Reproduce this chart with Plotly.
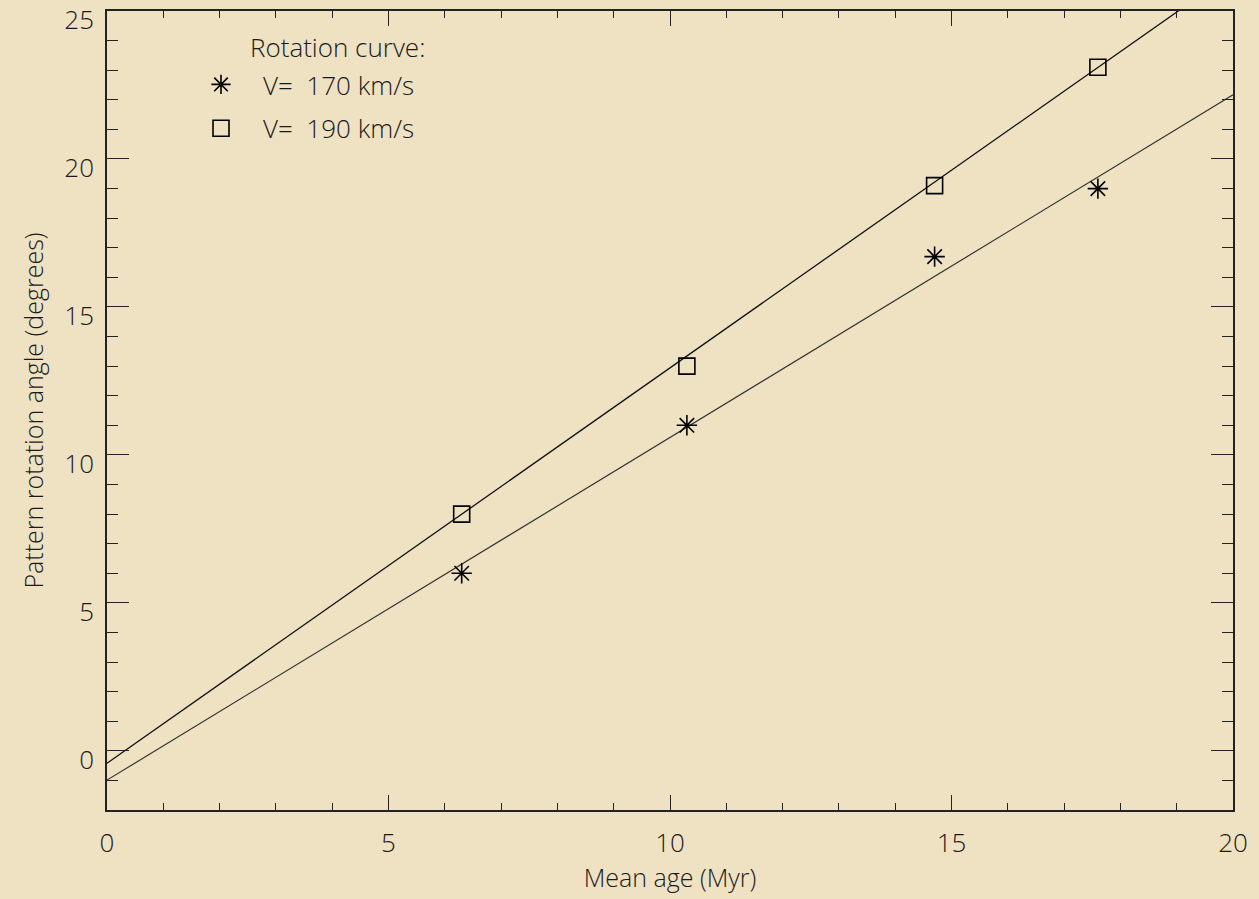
import plotly.graph_objects as go

# Data
mean_age = [6.3, 10.3, 14.7, 17.6]
angle_v170 = [6.0, 11.0, 16.7, 19.0]
angle_v190 = [8.0, 13.0, 19.1, 23.1]

# Fitted lines (endpoints read at x = 0 and x = 20)
fit_x = [0, 20]
fit_v170 = [-0.99, 22.17]
fit_v190 = [-0.42, 26.30]

x_ticks = [0, 5, 10, 15, 20]
y_ticks = [0, 5, 10, 15, 20, 25]

FONT = "Open Sans, DejaVu Sans, sans-serif"
WEIGHT = 300
INK = "#1a1a1a"
BG = "#EFE2C3"

fig = go.Figure()

fig.add_trace(go.Scatter(x=fit_x, y=fit_v190, mode="lines",
                         line=dict(color="#111111", width=1.3),
                         showlegend=False, hoverinfo="skip"))
fig.add_trace(go.Scatter(x=fit_x, y=fit_v170, mode="lines",
                         line=dict(color="#333333", width=1.2),
                         showlegend=False, hoverinfo="skip"))

fig.add_trace(go.Scatter(x=mean_age, y=angle_v170, mode="markers",
                         name="V=  170 km/s", legendgroup="a",
                         marker=dict(symbol="asterisk-open", size=17, color="#000000",
                                     line=dict(color="#000000", width=1.6)),
                         cliponaxis=False))
fig.add_trace(go.Scatter(x=mean_age, y=angle_v190, mode="markers",
                         name="V=  190 km/s", legendgroup="b",
                         marker=dict(symbol="square-open", size=16, color="#000000",
                                     line=dict(color="#000000", width=1.6)),
                         cliponaxis=False))

axis_common = dict(
    showgrid=False, zeroline=False, automargin=False,
    showline=True, linecolor="#222222", linewidth=1.5, mirror="allticks",
    ticks="inside", tickcolor="#222222", tickwidth=1.3,
    ticklabeloverflow="allow",
    tickfont=dict(family=FONT, size=26, color=INK, weight=WEIGHT),
)

fig.update_xaxes(
    range=[0, 20], tickvals=x_ticks, ticklen=15,
    minor=dict(ticks="inside", dtick=1, ticklen=7, tickcolor="#222222", tickwidth=1.3),
    ticklabelstandoff=9,
    title=dict(text="Mean age (Myr)", font=dict(family=FONT, size=25, color=INK, weight=WEIGHT), standoff=8),
    **axis_common,
)
fig.update_yaxes(
    range=[-2, 25.001], tickvals=y_ticks, ticklen=22,
    minor=dict(ticks="inside", dtick=1, ticklen=11, tickcolor="#222222", tickwidth=1.3),
    ticklabelstandoff=6, ticklabelshift=9,
    title=dict(text="Pattern rotation angle (degrees)", font=dict(family=FONT, size=25, color=INK, weight=WEIGHT), standoff=14),
    **axis_common,
)

fig.add_annotation(xref="paper", yref="paper", x=(248 - 107) / 1126, y=(810 - 47) / 799,
                   xanchor="left", yanchor="middle", showarrow=False,
                   text="Rotation curve:", font=dict(family=FONT, size=26, color=INK, weight=WEIGHT))

fig.update_layout(
    width=1259, height=899,
    margin=dict(l=107, r=26, t=11, b=89),
    paper_bgcolor=BG, plot_bgcolor=BG,
    showlegend=True,
    legend=dict(x=(179 - 107) / 1126, y=(810 - 61) / 799, xanchor="left", yanchor="top",
                bgcolor="rgba(0,0,0,0)", borderwidth=0, itemwidth=74,
                tracegroupgap=7,
                font=dict(family=FONT, size=26, color=INK, weight=WEIGHT)),
)

fig.write_html("out.html", config={"displayModeBar": False},
               post_script="document.body.style.margin='0';document.body.style.background='%s';" % BG)
